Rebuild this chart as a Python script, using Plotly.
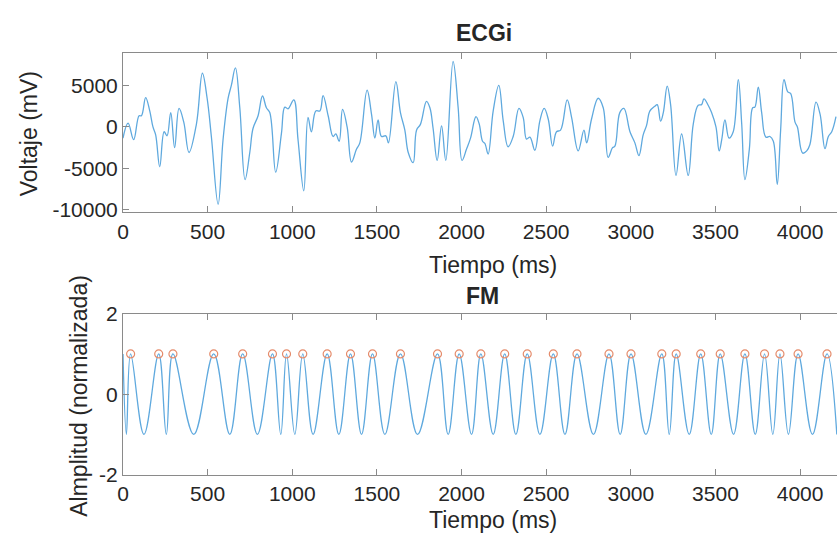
import plotly.graph_objects as go

# ---------------- data ----------------
ecg_t = [0, 30, 63, 95, 109, 134, 158, 177, 193, 217, 243, 260, 282, 305, 331, 359, 390, 434,
         469, 497, 522, 562, 591, 621, 640, 664, 690, 721, 749, 768, 798, 824, 847, 867, 902,
         936, 956, 975, 1009, 1034, 1068, 1093, 1113, 1139, 1163, 1182, 1212, 1241, 1257, 1277,
         1297, 1324, 1350, 1379, 1399, 1442, 1468, 1488, 1507, 1527, 1553, 1568, 1612, 1639,
         1665, 1685, 1714, 1734, 1757, 1793, 1813, 1832, 1856, 1882, 1907, 1950, 1980, 2003,
         2029, 2053, 2085, 2104, 2124, 2138, 2157, 2187, 2220, 2246, 2275, 2305, 2339, 2364,
         2384, 2404, 2433, 2463, 2488, 2512, 2538, 2561, 2585, 2624, 2650, 2689, 2723, 2739,
         2768, 2807, 2837, 2866, 2892, 2906, 2935, 2959, 2995, 3024, 3048, 3073, 3093, 3113,
         3142, 3156, 3176, 3192, 3215, 3235, 3267, 3300, 3339, 3369, 3398, 3418, 3432, 3457,
         3477, 3503, 3522, 3537, 3556, 3580, 3605, 3635, 3655, 3674, 3700, 3720, 3733, 3753,
         3773, 3798, 3822, 3842, 3865, 3885, 3905, 3927, 3944, 3970, 3984, 4015, 4039, 4058,
         4094, 4118, 4147, 4167, 4187, 4212]
ecg_v = [-1350, 460, -1540, 1350, 1350, 3540, 1930, 0, -960, -4810, -580, -1080, 1730, -2500,
         2230, 580, -3080, 380, 6470, 3460, -1150, -9320, -1540, 3460, 5000, 7120, 2310, -6350,
         -3080, -190, 1350, 3730, 2310, 1730, -5460, -770, 2390, 2190, 3270, -1540, -7700, 1155,
         -580, 1930, 1930, 3770, 1350, -1150, -850, -1730, 2110, 0, -4230, -2700, -1920, 4430,
         1540, -1350, 850, -1150, -1080, -1920, 5470, 1730, -390, -3080, -4310, -390, 310, 3080,
         2310, -190, -4040, 120, -4040, 7890, 2310, -4040, -2700, -1350, 1230, 380, -1730, -2000,
         -3270, 1930, 5000, 770, -2390, -1150, 2230, 1150, -1460, -1230, -2810, 770, 2230, 960,
         -2310, -580, -380, 3270, 1150, -2890, -380, -1920, 960, 3460, 2310, -3660, -2500, -2310,
         1730, 2230, -580, -1920, -3460, -960, 190, 1930, 2500, 2690, 690, 1730, 4930, 2690,
         -5850, -850, -5850, 380, 2620, 2690, 3390, 2620, 1730, 0, -2890, -1540, 850, -1350,
         -580, 5700, 380, -6350, -2700, 2310, 2390, 4810, 1730, -1230, -1150, -1730, -6930, -390,
         5700, 4230, 4040, 580, 0, -3160, -2890, -2120, 3000, 1540, -2620, -1150, -580, 1230]

fm_t = [0, 20, 45, 124, 211, 256, 295, 418, 536, 631, 707, 794, 883, 932, 966, 1015, 1062, 1123,
        1206, 1275, 1344, 1409, 1474, 1547, 1639, 1740, 1858, 1921, 1986, 2059, 2114, 2187,
        2255, 2321, 2388, 2463, 2542, 2611, 2682, 2779, 2871, 2937, 3001, 3089, 3183, 3227,
        3268, 3345, 3413, 3475, 3528, 3607, 3674, 3735, 3790, 3839, 3881, 3931, 3988, 4073,
        4159, 4217]
fm_v = [1, -1, 1, -1, 1, -1, 1, -1, 1, -1, 1, -1, 1, -1, 1, -1, 1, -1, 1, -1, 1, -1, 1, -1,
        1, -1, 1, -1, 1, -1, 1, -1, 1, -1, 1, -1, 1, -1, 1, -1, 1, -1, 1, -1, 1, -1, 1, -1,
        1, -1, 1, -1, 1, -1, 1, -1, 1, -1, 1, -1, 1, -1]

peak_t = [45, 211, 295, 536, 707, 883, 966, 1062, 1206, 1344, 1474, 1639, 1858, 1986, 2114,
          2255, 2388, 2542, 2682, 2871, 3001, 3183, 3268, 3413, 3528, 3674, 3790, 3881, 3988, 4159]
peak_v = [1] * len(peak_t)

x_ticks = [0, 500, 1000, 1500, 2000, 2500, 3000, 3500, 4000]
x_labels = ["0", "500", "1000", "1500", "2000", "2500", "3000", "3500", "4000"]
y1_ticks = [-10000, -5000, 0, 5000]
y1_labels = ["-10000", "-5000", "0", "5000"]
y2_ticks = [-2, 0, 2]
y2_labels = ["-2", "0", "2"]

# ---------------- figure ----------------
W, H = 837, 545
L = 123.3
FONT = "Liberation Sans, Arial, Helvetica, sans-serif"
TXT = "#262626"
AX = "#8a8a8a"
LINE = "#5fa9de"
CIRC = "#e58c6c"


def px_x(p):
    return (p - L) / (W - L)


def px_y(p):
    return 1 - p / H


fig = go.Figure()
fig.add_trace(go.Scatter(x=ecg_t, y=ecg_v, mode="lines", line=dict(color=LINE, width=1.3, shape="spline", smoothing=1.1),
                         xaxis="x", yaxis="y", showlegend=False, hoverinfo="skip"))
fig.add_trace(go.Scatter(x=fm_t, y=fm_v, mode="lines", line=dict(color=LINE, width=1.3, shape="spline", smoothing=1.1),
                         xaxis="x2", yaxis="y2", showlegend=False, hoverinfo="skip"))
fig.add_trace(go.Scatter(x=peak_t, y=peak_v, mode="markers",
                         marker=dict(symbol="circle-open", size=8, color=CIRC, line=dict(width=1.2, color=CIRC)),
                         xaxis="x2", yaxis="y2", showlegend=False, hoverinfo="skip"))

xcommon = dict(range=[0, 4218], tickvals=x_ticks, ticktext=x_labels, ticks="inside", ticklen=6, tickcolor=AX,
               showline=True, linecolor=AX, linewidth=1, mirror="ticks", showgrid=False, zeroline=False,
               tickfont=dict(family=FONT, size=21, color=TXT))
ycommon = dict(ticks="inside", ticklen=6, tickcolor=AX, showline=True, linecolor=AX, linewidth=1,
               mirror=False, showgrid=False, zeroline=False, tickfont=dict(family=FONT, size=21, color=TXT))

fig.update_layout(
    width=W, height=H,
    margin=dict(l=L, r=0, t=0, b=0),
    paper_bgcolor="white", plot_bgcolor="white",
    xaxis=dict(domain=[0, 1], anchor="y", **xcommon),
    yaxis=dict(domain=[px_y(209.3), px_y(42.7)], anchor="x", range=[-10312, 8926],
               tickvals=y1_ticks, ticktext=y1_labels, **ycommon),
    xaxis2=dict(domain=[0, 1], anchor="y2", **xcommon),
    yaxis2=dict(domain=[px_y(483), px_y(315)], anchor="x2", range=[-2, 2],
                tickvals=y2_ticks, ticktext=y2_labels, **ycommon),
)

ann = [
    dict(text="<b>ECGi</b>", x=px_x(484), y=px_y(22), size=23),
    dict(text="<b>FM</b>", x=px_x(483), y=px_y(297), size=23),
    dict(text="Tiempo (ms)", x=px_x(493), y=px_y(264), size=23),
    dict(text="Tiempo (ms)", x=px_x(493), y=px_y(530), size=23),
    dict(text="Voltaje (mV)", x=px_x(29), y=px_y(127), size=23, angle=-90),
    dict(text="Almplitud (normalizada)", x=px_x(79), y=px_y(401), size=23, angle=-90),
]
for a in ann:
    fig.add_annotation(text=a["text"], x=a["x"], y=a["y"], xref="paper", yref="paper",
                       xanchor="center", yanchor="middle", showarrow=False, textangle=a.get("angle", 0),
                       font=dict(family=FONT, size=a["size"], color=TXT))

fig.write_html("out.html")
